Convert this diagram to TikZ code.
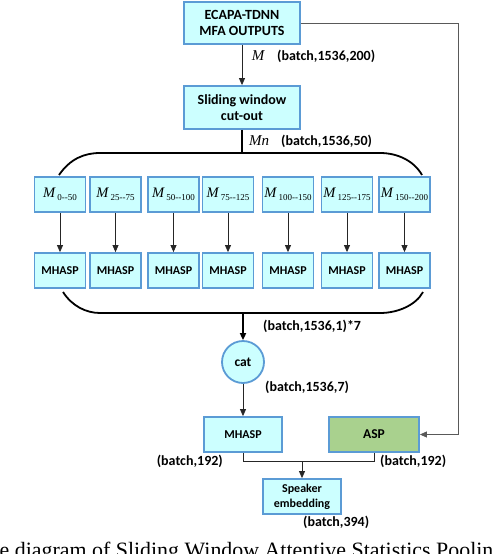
\documentclass[tikz,border=0pt]{standalone}
\usepackage{fontspec}
\setmainfont{Carlito}
\newfontfamily\capfont{Liberation Serif}
\usetikzlibrary{arrows.meta}
\definecolor{boxfill}{HTML}{CCFFFF}
\definecolor{boxline}{HTML}{5B9BD5}
\definecolor{aspfill}{HTML}{A9D18E}
\tikzset{
  blk/.style={draw=boxline, fill=boxfill, line width=1.8pt, inner sep=0pt, align=center, font=\bfseries\fontsize{12}{14}\selectfont},
  big/.style={font=\bfseries\fontsize{14}{16}\selectfont},
  conn/.style={draw=black!85, line width=0.8pt},
  thick conn/.style={draw=black, line width=1.8pt},
  tip/.style={-{Triangle[length=7pt,width=6pt]}},
  lbl/.style={font=\bfseries\fontsize{14}{16}\selectfont, inner sep=0pt},
  mlbl/.style={font=\capfont\mdseries\itshape\fontsize{15}{16}\selectfont, inner sep=0pt},
}
\newcommand{\msub}[1]{{\capfont\mdseries\itshape\fontsize{14.5}{16}\selectfont M}\,\raisebox{-3.5pt}{\capfont\mdseries\upshape\fontsize{9}{10}\selectfont #1}}
\begin{document}
\begin{tikzpicture}[x=1pt,y=-1pt]
\clip (0,0) rectangle (492,554);
\useasboundingbox (0,0) rectangle (492,554);
% top boxes
\node[blk, minimum width=116, minimum height=42, font=\bfseries\fontsize{14}{15.5}\selectfont] (ecapa) at (242,23) {ECAPA-TDNN\\MFA OUTPUTS};
\node[blk, minimum width=116, minimum height=43, font=\bfseries\fontsize{14}{16}\selectfont] (slide) at (242,107.5) {Sliding window\\cut-out};
\draw[conn, tip] (ecapa.south) -- (slide.north);
\node[mlbl] (mlab) at (258,56) {M};
\node[lbl, anchor=west] (b200) at (277,56) {(batch,1536,200)};
\coordinate (top) at (242,153);
\draw[thick conn] (slide.south) -- (top);
\node[mlbl] (mnlab) at (259,141) {Mn};
\node[lbl, anchor=west] (b50) at (281,141) {(batch,1536,50)};
% bracket
\draw[thick conn] (59,175) .. controls (70,159) and (84,153) .. (100,153) -- (380,153) .. controls (398,153) and (414,161) .. (422,175);
\draw[thick conn] (63,292) .. controls (72,306) and (86,313) .. (100,313) -- (380,313) .. controls (398,313) and (416,305) .. (423,292);
% rows
\foreach \i/\x/\s in {1/60/0--50, 2/115.5/25--75, 3/173.5/50--100, 4/228/75--125, 5/288/100--150, 6/347/125--175, 7/404.5/150--200}{
  \node[blk, minimum width=51, minimum height=35] (m\i) at (\x,194.5) {\msub{\s}};
  \node[blk, minimum width=51, minimum height=35] (h\i) at (\x,270.5) {MHASP};
  \draw[conn, tip] (m\i.south) -- (h\i.north);
}
% bottom
\coordinate (bot) at (243,313);
\node[blk, circle, minimum size=42, font=\bfseries\fontsize{13.5}{15}\selectfont] (cat) at (243,362) {cat};
\draw[thick conn, tip] (bot) -- (cat.north);
\node[lbl, anchor=west] (b17) at (263,326) {(batch,1536,1)*7};
\node[lbl, anchor=west] (b7) at (265,387) {(batch,1536,7)};
\node[blk, minimum width=78, minimum height=35] (mh) at (243,434.5) {MHASP};
\node[blk, fill=aspfill, minimum width=90, minimum height=35, font=\bfseries\fontsize{13.5}{15}\selectfont] (asp) at (374,434.5) {ASP};
\draw[conn, tip] (cat.south) -- (mh.north);
\draw[conn, draw=black!65, tip] (ecapa.east) -- (458,23) |- (asp.east);
\node[lbl, anchor=east] (bl) at (223,461) {(batch,192)};
\node[lbl, anchor=west] (br) at (380,461) {(batch,192)};
\coordinate (join) at (302,461);
\draw[conn] (mh.south) -- (243,461) -| (asp.south);
\node[blk, minimum width=78, minimum height=35, font=\bfseries\fontsize{12}{15}\selectfont] (spk) at (302,496.5) {Speaker\\embedding};
\draw[conn, tip] (join) -- (spk.north);
\node[lbl, anchor=west] (b394) at (303,522) {(batch,394)};
% caption (cut off at the picture's edges, as in the reference)
\node[anchor=base west, inner sep=0pt, font=\capfont\fontsize{21.9}{24}\selectfont] (cap) at (-0.5,557.5) {e diagram of Sliding Window Attentive Statistics Pooling};
\end{tikzpicture}
\end{document}
